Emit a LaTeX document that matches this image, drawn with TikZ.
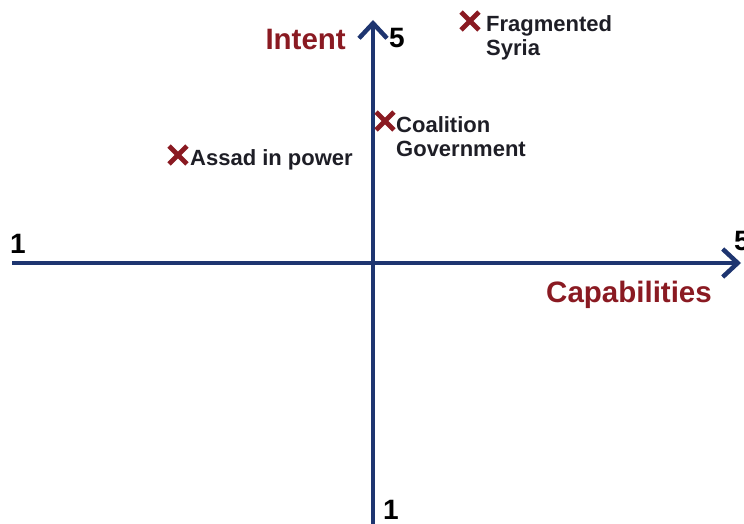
\documentclass[tikz,border=0pt]{standalone}
\usepackage{fontspec}
\setmainfont{Liberation Sans}
\usetikzlibrary{arrows.meta,shapes.misc}
\definecolor{axisblue}{HTML}{1E3570}
\definecolor{darkred}{HTML}{8A1A22}
\definecolor{txt}{HTML}{1E1E26}
\tikzset{
  axisline/.style={draw=axisblue,line width=4pt,-{Straight Barb[length=15pt,width=28pt,line width=4.5pt]}},
  axislabel/.style={text=darkred,font=\fontsize{29.5}{31}\selectfont\bfseries,inner sep=0pt},
  numlabel/.style={text=black,font=\fontsize{28}{30}\selectfont\bfseries,inner sep=0pt},
  ptlabel/.style={text=txt,font=\fontsize{22}{24}\selectfont\bfseries,inner sep=0pt,align=left},
  mark x/.style={cross out,draw=darkred,line width=4.8pt,minimum size=13pt,inner sep=0pt}
}
\begin{document}
\begin{tikzpicture}[x=1pt,y=-1pt]
\useasboundingbox (0,0) rectangle (744,524);
\coordinate (vbot) at (373,526);
\coordinate (vtop) at (373,20);
\coordinate (hleft) at (12,263);
\coordinate (hright) at (741,263);
\draw[axisline] (vbot) -- (vtop);
\draw[axisline] (hleft) -- (hright);
\node[axislabel,anchor=base east] (intent) at (346,50) {Intent};
\node[axislabel,anchor=base west] (cap) at (546,302) {Capabilities};
\node[numlabel,anchor=base west] (ytop) at (389,48) {5};
\node[numlabel,anchor=base west] (ybot) at (383,519) {1};
\node[numlabel,anchor=base west] (xleft) at (10,253) {1};
\node[numlabel,anchor=base west] (xright) at (734,250) {5};
\node[mark x] (m1) at (470,21) {};
\node[ptlabel,anchor=north west] (l1) at (486,15) {Fragmented\\Syria};
\node[mark x] (m2) at (385,121) {};
\node[ptlabel,anchor=north west] (l2) at (396,116) {Coalition\\Government};
\node[mark x] (m3) at (178,155) {};
\node[ptlabel,anchor=base west] (l3) at (190,165) {Assad in power};
\end{tikzpicture}
\end{document}
